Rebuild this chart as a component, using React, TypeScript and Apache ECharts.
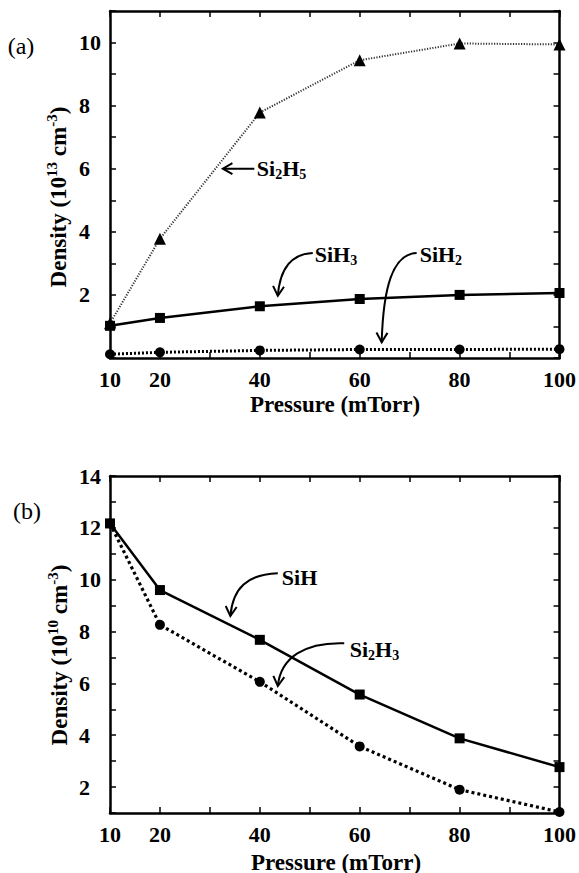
import React, { useEffect, useRef } from 'react';
import * as echarts from 'echarts';

// Pressure (mTorr)
const pressure = [10, 20, 40, 60, 80, 100];
// Panel (a) densities, 10^13 cm^-3
const si2h5 = [1.1, 3.78, 7.78, 9.44, 9.97, 9.94];
const sih3 = [1.02, 1.27, 1.64, 1.87, 2.0, 2.06];
const sih2 = [0.12, 0.18, 0.24, 0.27, 0.27, 0.28];
// Panel (b) densities, 10^10 cm^-3
const sih = [12.17, 9.6, 7.68, 5.57, 3.88, 2.77];
const si2h3 = [12.17, 8.26, 6.06, 3.57, 1.9, 1.04];

const xTickLabels = [10, 20, 40, 60, 80, 100];
const yTickLabelsA = [2, 4, 6, 8, 10];
const yTickLabelsB = [2, 4, 6, 8, 10, 12, 14];

const FONT = 'Liberation Serif';

const pairs = (ys: number[]) => pressure.map((x, i) => [x, ys[i]]);

function xAxisCfg(gridIndex: number, position: 'bottom' | 'top') {
  return {
    type: 'value',
    gridIndex,
    position,
    min: 10,
    max: 100,
    interval: 10,
    axisLine: { show: true, onZero: false, lineStyle: { color: '#000', width: 2.5 } },
    axisTick: { show: true, inside: true, length: 6, lineStyle: { color: '#000', width: 1.5 } },
    axisLabel: {
      show: position === 'bottom',
      showMinLabel: true,
      showMaxLabel: true,
      hideOverlap: false,
      margin: 10,
      color: '#000',
      fontFamily: FONT,
      fontWeight: 'bold',
      fontSize: 22,
      formatter: (v: number) => (xTickLabels.includes(v) ? String(v) : ''),
    },
    splitLine: { show: false },
  };
}

function yAxisCfg(gridIndex: number, position: 'left' | 'right', min: number, max: number, labels: number[]) {
  return {
    type: 'value',
    gridIndex,
    position,
    min,
    max,
    interval: 1,
    axisLine: { show: true, onZero: false, lineStyle: { color: '#000', width: 2.5 } },
    axisTick: { show: true, inside: true, length: 6, lineStyle: { color: '#000', width: 1.5 } },
    axisLabel: {
      show: position === 'left',
      showMinLabel: true,
      showMaxLabel: true,
      hideOverlap: false,
      align: 'left',
      margin: 31,
      color: '#000',
      fontFamily: FONT,
      fontWeight: 'bold',
      fontSize: 22,
      formatter: (v: number) => (labels.includes(Math.round(v)) && Math.abs(v - Math.round(v)) < 1e-6 ? String(Math.round(v)) : ''),
    },
    splitLine: { show: false },
  };
}

function lineSeries(name: string, xi: number, yi: number, ys: number[], symbol: string, size: number, lineStyle: any) {
  return {
    name,
    type: 'line',
    xAxisIndex: xi,
    yAxisIndex: yi,
    data: pairs(ys),
    symbol,
    symbolSize: size,
    showSymbol: true,
    clip: false,
    itemStyle: { color: '#000' },
    lineStyle: { color: '#000', cap: 'butt', ...lineStyle },
    emphasis: { disabled: true },
    z: 3,
  };
}

const subRich = {
  n: { fontFamily: FONT, fontWeight: 'bold', fontSize: 22, color: '#000', lineHeight: 26, verticalAlign: 'middle' },
  sub: { fontFamily: FONT, fontWeight: 'bold', fontSize: 14, color: '#000', lineHeight: 26, verticalAlign: 'bottom' },
  sup: { fontFamily: FONT, fontWeight: 'bold', fontSize: 14, color: '#000', lineHeight: 26, verticalAlign: 'top' },
};

export default function App() {
  const ref = useRef<HTMLDivElement>(null);

  useEffect(() => {
    if (!ref.current) return;
    const chart = echarts.init(ref.current, undefined, { renderer: 'svg' });
    const option: any = {
      animation: false,
      backgroundColor: '#fff',
      textStyle: { fontFamily: FONT },
      grid: [
        { left: 110, top: 11, width: 451, height: 347 },
        { left: 110, top: 476, width: 452, height: 337 },
      ],
      xAxis: [xAxisCfg(0, 'bottom'), xAxisCfg(0, 'top'), xAxisCfg(1, 'bottom'), xAxisCfg(1, 'top')],
      yAxis: [
        yAxisCfg(0, 'left', 0, 11, yTickLabelsA),
        yAxisCfg(0, 'right', 0, 11, yTickLabelsA),
        yAxisCfg(1, 'left', 1, 14, yTickLabelsB),
        yAxisCfg(1, 'right', 1, 14, yTickLabelsB),
      ],
      series: [
        lineSeries('Si2H5', 0, 0, si2h5, 'triangle', 12, { width: 2, type: [1.2, 1.5], color: '#333' }),
        lineSeries('SiH3', 0, 0, sih3, 'rect', 10, { width: 2.5, type: 'solid' }),
        lineSeries('SiH2', 0, 0, sih2, 'circle', 10, { width: 3, type: [2, 2] }),
        lineSeries('SiH', 2, 2, sih, 'rect', 10, { width: 2.5, type: 'solid' }),
        lineSeries('Si2H3', 2, 2, si2h3, 'circle', 10, { width: 3.2, type: [3, 3] }),
      ],
    };
    chart.setOption(option);

    const pa = (x: number, y: number) => chart.convertToPixel({ xAxisIndex: 0, yAxisIndex: 0 }, [x, y]) as number[];
    const pb = (x: number, y: number) => chart.convertToPixel({ xAxisIndex: 2, yAxisIndex: 2 }, [x, y]) as number[];

    const arrowHead = (end: number[], from: number[]) => {
      const a = Math.atan2(end[1] - from[1], end[0] - from[0]);
      const L = 11;
      const s = Math.PI / 6;
      return {
        type: 'polyline',
        shape: {
          points: [
            [end[0] - L * Math.cos(a - s), end[1] - L * Math.sin(a - s)],
            end,
            [end[0] - L * Math.cos(a + s), end[1] - L * Math.sin(a + s)],
          ],
        },
        style: { stroke: '#000', lineWidth: 2, fill: null },
        z: 10,
      };
    };

    const curved = (p: (x: number, y: number) => number[], s: number[], c1: number[], c2: number[], e: number[]) => {
      const S = p(s[0], s[1]);
      const C1 = p(c1[0], c1[1]);
      const C2 = p(c2[0], c2[1]);
      const E = p(e[0], e[1]);
      return [
        {
          type: 'bezierCurve',
          shape: { x1: S[0], y1: S[1], cpx1: C1[0], cpy1: C1[1], cpx2: C2[0], cpy2: C2[1], x2: E[0], y2: E[1] },
          style: { stroke: '#000', lineWidth: 2, fill: null },
          z: 10,
        },
        arrowHead(E, C2),
      ];
    };

    const label = (pt: number[], text: string) => ({
      type: 'text',
      x: pt[0],
      y: pt[1],
      z: 10,
      style: { text, rich: subRich, align: 'left', verticalAlign: 'middle', fill: '#000' },
    });

    // straight arrow for Si2H5
    const a1s = pa(38.9, 6.0);
    const a1e = pa(32.6, 6.0);

    const graphic: any[] = [
      { type: 'line', shape: { x1: a1s[0], y1: a1s[1], x2: a1e[0], y2: a1e[1] }, style: { stroke: '#000', lineWidth: 2 }, z: 10 },
      arrowHead(a1e, a1s),
      label(pa(39.4, 6.0), '{n|Si}{sub|2}{n|H}{sub|5}'),
      ...curved(pa, [50.6, 3.33], [46, 3.3], [44, 2.8], [43.6, 1.97]),
      label(pa(51.0, 3.27), '{n|SiH}{sub|3}'),
      ...curved(pa, [71.4, 3.33], [66.5, 3.3], [64.7, 2.2], [64.4, 0.5]),
      label(pa(72.0, 3.27), '{n|SiH}{sub|2}'),
      ...curved(pb, [43.6, 10.25], [37.5, 10.2], [34.6, 9.7], [34.1, 8.6]),
      label(pb(44.4, 10.1), '{n|SiH}'),
      ...curved(pb, [56.9, 7.55], [49, 7.6], [44.2, 7.0], [43.6, 5.9]),
      label(pb(58.0, 7.3), '{n|Si}{sub|2}{n|H}{sub|3}'),
    ];

    // panel letters
    graphic.push({ type: 'text', x: 21, y: 46, style: { text: '(a)', fontFamily: FONT, fontSize: 24, fill: '#000', align: 'center', verticalAlign: 'middle' } });
    graphic.push({ type: 'text', x: 27, y: 511, style: { text: '(b)', fontFamily: FONT, fontSize: 24, fill: '#000', align: 'center', verticalAlign: 'middle' } });

    // axis names
    const nameRich = {
      n: { fontFamily: FONT, fontWeight: 'bold', fontSize: 23, color: '#000', lineHeight: 28, verticalAlign: 'middle' },
      sup: { fontFamily: FONT, fontWeight: 'bold', fontSize: 15, color: '#000', lineHeight: 28, verticalAlign: 'top' },
    };
    graphic.push({ type: 'text', x: 335, y: 404, style: { text: '{n|Pressure (mTorr)}', rich: nameRich, align: 'center', verticalAlign: 'middle' } });
    graphic.push({ type: 'text', x: 336, y: 862, style: { text: '{n|Pressure (mTorr)}', rich: nameRich, align: 'center', verticalAlign: 'middle' } });
    graphic.push({
      type: 'text', x: 58, y: 197, rotation: Math.PI / 2,
      style: { text: '{n|Density (10}{sup|13}{n| cm}{sup|-3}{n|)}', rich: nameRich, align: 'center', verticalAlign: 'middle' },
    });
    graphic.push({
      type: 'text', x: 59, y: 655, rotation: Math.PI / 2,
      style: { text: '{n|Density (10}{sup|10}{n| cm}{sup|-3}{n|)}', rich: nameRich, align: 'center', verticalAlign: 'middle' },
    });

    chart.setOption({ graphic });

    return () => chart.dispose();
  }, []);

  return <div ref={ref} style={{ position: 'fixed', left: 0, top: 0, width: 579, height: 873, background: '#fff' }} />;
}
